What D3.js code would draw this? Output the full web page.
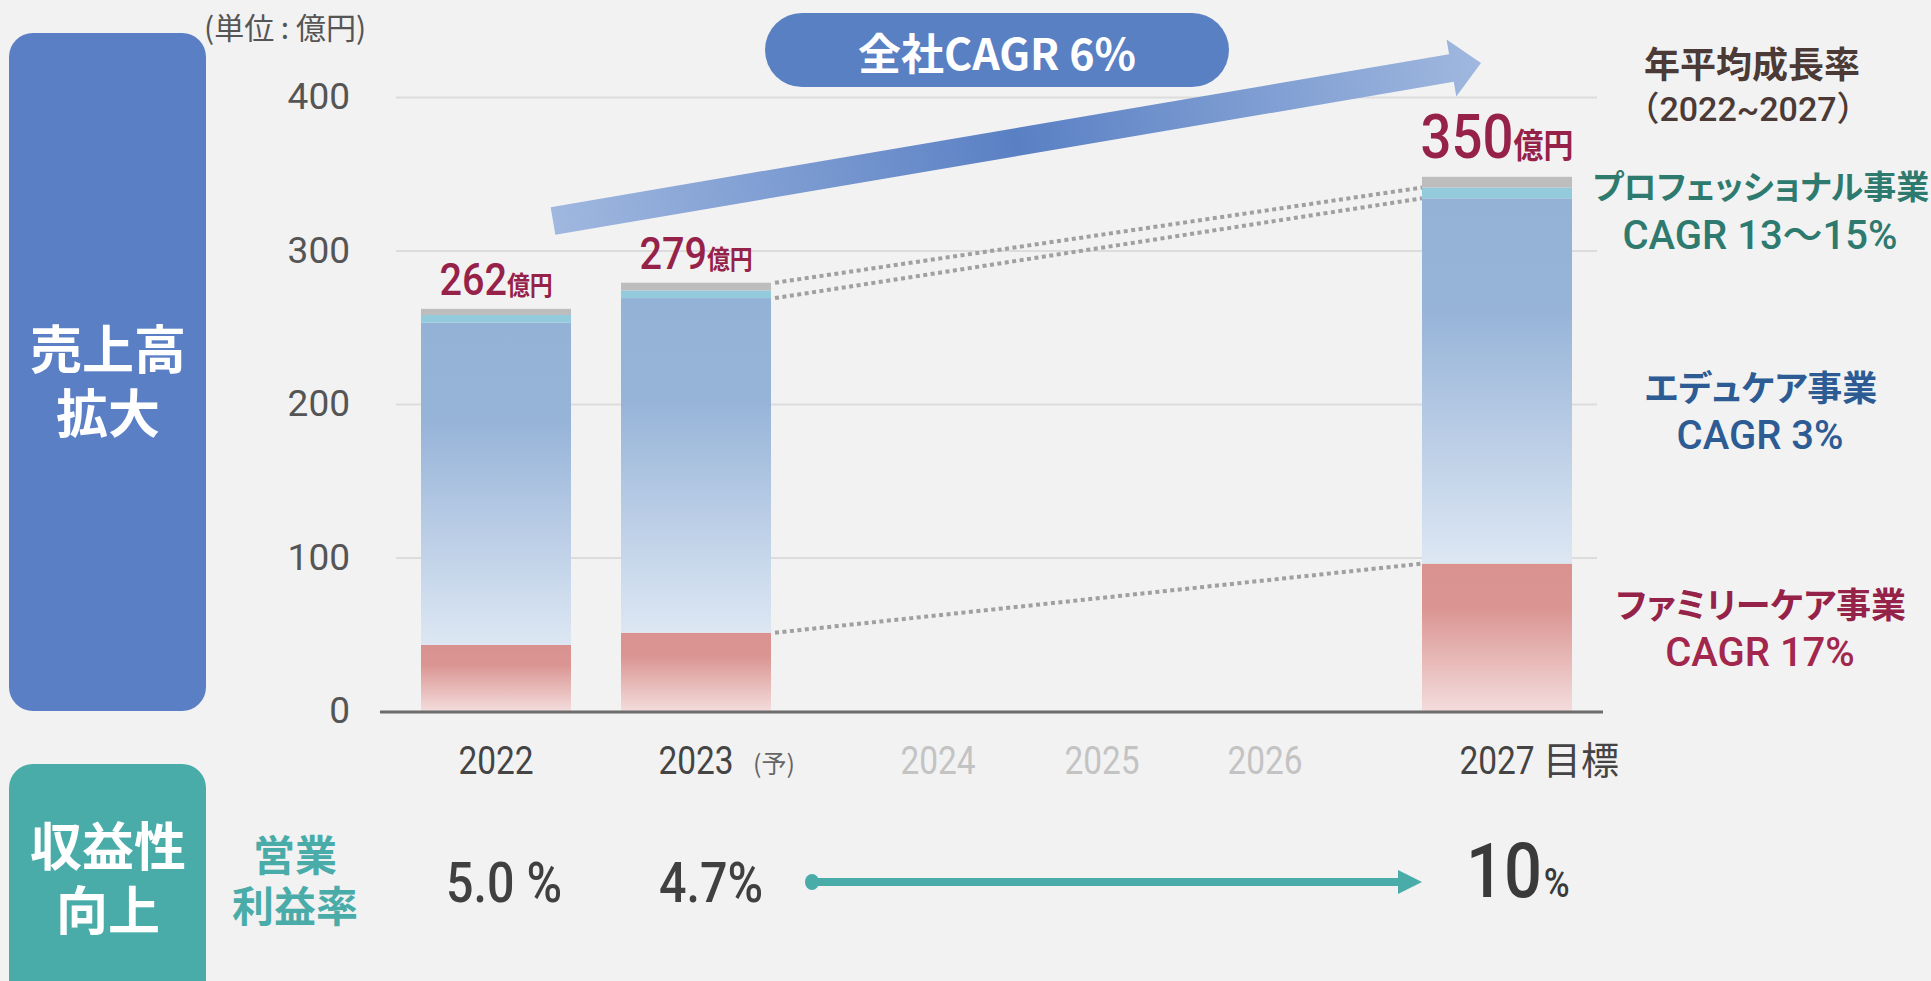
<!DOCTYPE html>
<html>
<head>
<meta charset="utf-8">
<script src="https://cdn.jsdelivr.net/npm/d3@7"></script>
<style>
html, body { margin: 0; padding: 0; background: #f2f2f2; }
svg { display: block; }
.jp { font-family: "Noto Sans CJK JP", sans-serif; font-feature-settings: "palt"; }
.jpw { font-family: "Noto Sans CJK JP", sans-serif; }
.num { font-family: Roboto, "Noto Sans CJK JP", sans-serif; }
</style>
</head>
<body>
<div id="chart"></div>
<script>
// ---- data ----
const years = [2022, 2023, 2024, 2025, 2026, 2027];
const yearSuffix = ["", "(予)", "", "", "", "目標"];
const activeYears = [2022, 2023, 2027];

const barYears = [2022, 2023, 2027];
const familyCare = [43, 51, 96];
const eduCare = [210, 218, 238];
const professional = [5, 5, 7];
const others = [4, 5, 7];
const totals = [262, 279, 350];

const yTicks = [0, 100, 200, 300, 400];

const marginYears = [2022, 2023, 2027];
const marginValues = ["5.0 %", "4.7%", "10"];

const segNames = ["プロフェッショナル事業", "エデュケア事業", "ファミリーケア事業"];
const segCagr = ["CAGR 13〜15%", "CAGR 3%", "CAGR 17%"];

// ---- layout ----
const W = 1931, H = 981;
const xCenters = [496, 696, 938, 1102, 1265, 1497];
const barW = 150;
const x = d3.scaleLinear().domain(years).range(xCenters);
const y = d3.scaleLinear().domain([0, 400]).range([711, 97]);
const gridLeft = 396, gridRight = 1597;

const svg = d3.select("#chart").append("svg")
	.attr("width", W)
	.attr("height", H);

svg.append("rect").attr("width", W).attr("height", H).attr("fill", "#f2f2f2");

const defs = svg.append("defs");

function vGrad(id, stops) {
	let g = defs.append("linearGradient").attr("id", id)
		.attr("x1", 0).attr("y1", 0).attr("x2", 0).attr("y2", 1);
	stops.forEach(s => g.append("stop").attr("offset", s[0]).attr("stop-color", s[1]));
}
vGrad("gFamily", [[0, "#d99290"], [0.3, "#da9592"], [1, "#f3dcdc"]]);
vGrad("gEdu", [[0, "#94b1d6"], [0.3, "#96b3d8"], [1, "#dde7f3"]]);

// side boxes
svg.append("rect").attr("x", 9).attr("y", 33).attr("width", 197).attr("height", 678)
	.attr("rx", 24).attr("fill", "#5a7fc4");
svg.append("rect").attr("x", 9).attr("y", 764).attr("width", 197).attr("height", 260)
	.attr("rx", 24).attr("fill", "#4aaca9");

function cjk(g, px, py, s, size, fill, anchor) {
	return g.append("text").attr("class", "jp")
		.attr("x", px).attr("y", py)
		.attr("dominant-baseline", "central")
		.attr("text-anchor", anchor || "middle")
		.attr("font-size", size).attr("font-weight", 700)
		.attr("fill", fill).text(s);
}

// two lines in one text element
function cjk2(g, px, py, lines, gap, size, fill) {
	let t = g.append("text").attr("class", "jp")
		.attr("text-anchor", "middle")
		.attr("font-size", size).attr("font-weight", 700)
		.attr("fill", fill);
	lines.forEach((s, i) => t.append("tspan")
		.attr("x", px).attr("y", py + i * gap)
		.attr("dominant-baseline", "central")
		.text(s));
	return t;
}

cjk2(svg, 108, 346, ["売上高", "拡大"], 64, 52, "#fff");
cjk2(svg, 108, 843, ["収益性", "向上"], 64, 52, "#fff");

// unit
svg.append("text").attr("class", "jpw").attr("x", 204).attr("y", 39)
	.attr("font-size", 30).attr("fill", "#555").text("(単位 : 億円)");

// grid + y axis
svg.append("g")
	.attr("transform", "translate(" + gridLeft + ",0)")
	.call(d3.axisLeft(y).tickValues(yTicks).tickSize(-(gridRight - gridLeft)).tickPadding(46).tickFormat(d3.format("d")))
	.call(g => g.select(".domain").remove())
	.call(g => g.selectAll(".tick line").attr("stroke", d => d === 0 ? "none" : "#dcdcdc").attr("stroke-width", 2))
	.call(g => g.selectAll(".tick text")
		.attr("font-family", "Roboto").attr("font-size", 37).attr("fill", "#555"));

// stacked bars
const rows = barYears.map((yr, i) => ({
	year: yr, family: familyCare[i], edu: eduCare[i], pro: professional[i], other: others[i]
}));
const keys = ["family", "edu", "pro", "other"];
const fills = { family: "url(#gFamily)", edu: "url(#gEdu)", pro: "#93cbdc", other: "#bdbdbd" };
const series = d3.stack().keys(keys)(rows);

svg.append("g").selectAll("g")
	.data(series)
	.join("g")
	.attr("fill", d => fills[d.key])
	.selectAll("rect")
	.data(d => d)
	.join("rect")
	.attr("x", d => x(d.data.year) - barW / 2)
	.attr("y", d => y(d[1]))
	.attr("width", barW)
	.attr("height", d => y(d[0]) - y(d[1]));

// baseline
svg.append("line")
	.attr("x1", 380).attr("x2", 1603)
	.attr("y1", y(0) + 1).attr("y2", y(0) + 1)
	.attr("stroke", "#6d6d6d").attr("stroke-width", 3);

// dotted connectors 2023 -> 2027
const segTop = (key, i) => series[keys.indexOf(key)][i][1];
const links = [
	[segTop("other", 1), segTop("pro", 2)],
	[segTop("edu", 1), segTop("edu", 2)],
	[segTop("family", 1), segTop("family", 2)]
];
svg.append("g").selectAll("line")
	.data(links)
	.join("line")
	.attr("x1", x(2023) + barW / 2 + 4)
	.attr("x2", x(2027) - barW / 2)
	.attr("y1", d => y(d[0]))
	.attr("y2", d => y(d[1]))
	.attr("stroke", "#a0a0a0")
	.attr("stroke-width", 4)
	.attr("stroke-dasharray", "4,3.5");

// totals above bars
const totalG = svg.append("g").selectAll("text")
	.data(barYears)
	.join("text")
	.attr("text-anchor", "middle")
	.attr("transform", (d, i) => "translate(" + x(d) + "," + (y(segTop("other", i)) - (i === 2 ? 19 : 14)) + ") scale(0.88,1)")
	.attr("fill", "#96224a");
totalG.append("tspan").attr("class", "num").attr("font-weight", 500)
	.attr("font-size", (d, i) => i === 2 ? 62 : 45)
	.text((d, i) => totals[i]);
totalG.append("tspan").attr("class", "jp").attr("font-weight", 700)
	.attr("font-size", (d, i) => i === 2 ? 34 : 26)
	.text("億円");

// x labels
svg.append("g").selectAll("text")
	.data(years)
	.join("text")
	.attr("class", "num")
	.attr("text-anchor", "middle")
	.attr("transform", d => "translate(" + x(d) + ",774) scale(0.88,1)")
	.attr("font-size", 38)
	.attr("font-weight", 400)
	.attr("fill", d => activeYears.includes(d) ? "#444" : "#c3c3c3")
	.text(d => d);
svg.append("text").attr("class", "jp").attr("x", x(2023) + 57).attr("y", 773)
	.attr("font-size", 25).attr("fill", "#666").text(yearSuffix[1]);
svg.append("text").attr("class", "jp").attr("x", x(2027) + 46).attr("y", 774)
	.attr("font-size", 38).attr("fill", "#444").text(yearSuffix[5]);

// big CAGR arrow
const tail = [553, 221], tip = [1481, 63];
const ang = Math.atan2(tip[1] - tail[1], tip[0] - tail[0]) * 180 / Math.PI;
const L = Math.hypot(tip[0] - tail[0], tip[1] - tail[1]);
const ag = defs.append("linearGradient").attr("id", "gArrow")
	.attr("gradientUnits", "userSpaceOnUse").attr("x1", 0).attr("x2", L).attr("y1", 0).attr("y2", 0);
ag.append("stop").attr("offset", 0).attr("stop-color", "#a0b8df");
ag.append("stop").attr("offset", 0.5).attr("stop-color", "#5a80c4");
ag.append("stop").attr("offset", 1).attr("stop-color", "#a0b8df");
svg.append("path")
	.attr("transform", "translate(" + tail + ") rotate(" + ang + ")")
	.attr("d", `M0,-14L${L - 30},-14L${L - 30},-29L${L},0L${L - 30},29L${L - 30},14L0,14Z`)
	.attr("fill", "url(#gArrow)");

// pill
svg.append("rect").attr("x", 765).attr("y", 13).attr("width", 464).attr("height", 74)
	.attr("rx", 37).attr("fill", "#5a80c4");
cjk(svg, 997, 51, "全社CAGR 6%", 43, "#fff");

// right column
cjk(svg, 1752, 62, "年平均成長率", 36, "#4b3a35");
svg.append("text").attr("class", "num").attr("x", 1748).attr("y", 121)
	.attr("text-anchor", "middle").attr("font-size", 34).attr("font-weight", 500)
	.attr("fill", "#4b3a35").text("（2022~2027）");

const segColors = ["#2e7a6f", "#2d5b94", "#952248"];
const segNameY = [185, 385, 602];
const segNameSize = [33, 35, 35];
segNames.forEach((s, i) => {
	cjk(svg, 1761, segNameY[i], s, segNameSize[i], segColors[i]);
	svg.append("text").attr("class", "num")
		.attr("x", 1760).attr("y", segNameY[i] + 64)
		.attr("text-anchor", "middle").attr("font-size", 40).attr("font-weight", 500)
		.attr("fill", i === 2 ? "#a3264c" : segColors[i])
		.text(segCagr[i]);
});

// operating margin row
cjk2(svg, 295, 852, ["営業", "利益率"], 51, 42, "#4aaca9");

const mOffsets = [8, 15, 0];
marginYears.forEach((yr, i) => {
	if (i < 2) {
		svg.append("text").attr("class", "num")
			.attr("text-anchor", "middle")
			.attr("transform", "translate(" + (x(yr) + mOffsets[i]) + ",902) scale(0.88,1)")
			.attr("font-size", 55).attr("font-weight", 500).attr("fill", "#404040")
			.text(marginValues[i]);
	} else {
		let t = svg.append("text").attr("class", "num")
			.attr("transform", "translate(" + (x(yr) - 31) + ",897) scale(0.88,1)")
			.attr("font-weight", 500)
			.attr("fill", "#3a3a3a");
		t.append("tspan").attr("font-size", 76).text(marginValues[i]);
		t.append("tspan").attr("font-size", 40).attr("dx", 2).text("%");
	}
});

// teal arrow between 2023 and 2027
const ax1 = x(2023) + 116, ax2 = x(2027) - barW / 2, ay = 882;
svg.append("line").attr("x1", ax1).attr("x2", ax2 - 22).attr("y1", ay).attr("y2", ay)
	.attr("stroke", "#4aaca9").attr("stroke-width", 8);
svg.append("ellipse").attr("cx", ax1).attr("cy", ay).attr("rx", 7).attr("ry", 8).attr("fill", "#4aaca9");
svg.append("path")
	.attr("d", `M${ax2 - 24},${ay - 12}L${ax2},${ay}L${ax2 - 24},${ay + 12}Z`)
	.attr("fill", "#4aaca9");
</script>
</body>
</html>
